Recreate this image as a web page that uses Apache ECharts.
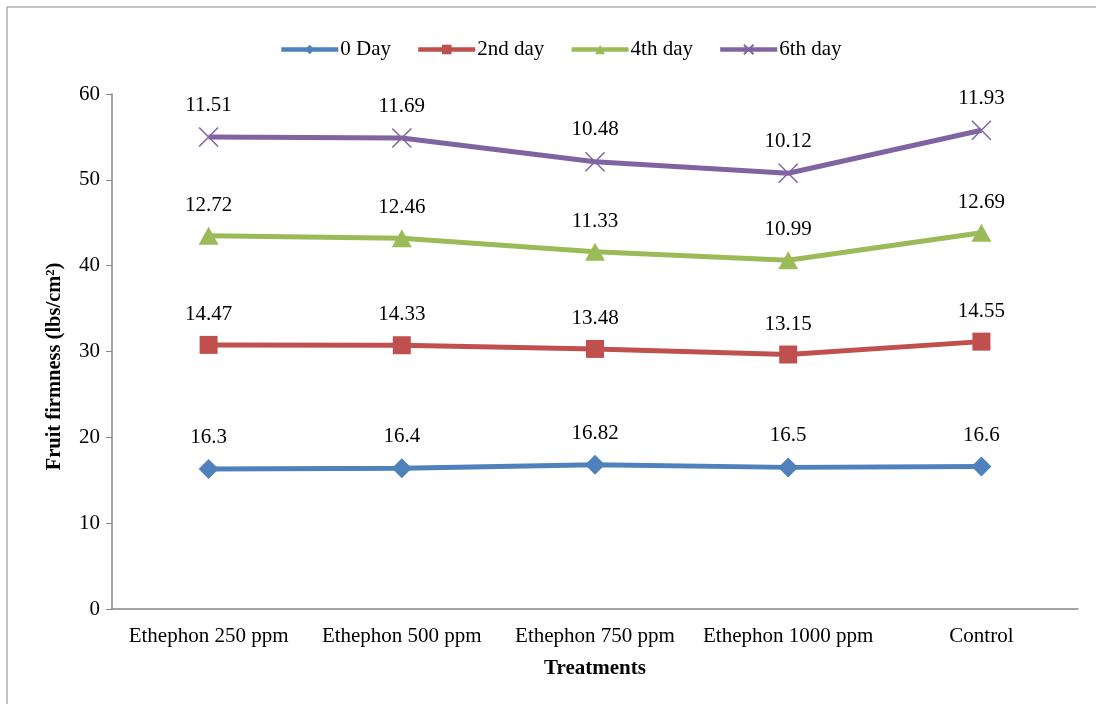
<!DOCTYPE html>
<html><head><meta charset="utf-8">
<script src="https://cdn.jsdelivr.net/npm/echarts@6/dist/echarts.min.js"></script>
<style>html,body{margin:0;padding:0;background:#fff}#c{width:1096px;height:704px}</style>
</head><body><div id="c"></div>
<script>
const categories = ['Ethephon 250 ppm','Ethephon 500 ppm','Ethephon 750 ppm','Ethephon 1000 ppm','Control'];
const day0 = [16.3, 16.4, 16.82, 16.5, 16.6];
const day2 = [14.47, 14.33, 13.48, 13.15, 14.55];
const day4 = [12.72, 12.46, 11.33, 10.99, 12.69];
const day6 = [11.51, 11.69, 10.48, 10.12, 11.93];
const seriesNames = ['0 Day','2nd day','4th day','6th day'];
const colors = ['#4F81BD','#C0504D','#9BBB59','#8064A2'];
const symbols = ['diamond','rect','triangle','path://M0,0 L10,10 M10,0 L0,10'];
const symbolSizes = [[20,20],[18,18],[20,18],[19,19]];
const font = 'Liberation Serif, Times New Roman, serif';
const chart = echarts.init(document.getElementById('c'));
const dataSets = [day0, day2, day4, day6];
chart.setOption({
  animation:false,
  backgroundColor:'#fff',
  graphic:[{type:'rect',shape:{x:7,y:7,width:1200,height:900},style:{fill:'none',stroke:'#898989',lineWidth:1}}],
  legend:{top:34,left:274,itemWidth:57,itemHeight:12,itemGap:25,
    lineStyle:{width:4.5},
    textStyle:{fontFamily:font,fontSize:21,color:'#000',padding:[0,0,0,-3]},
    data:seriesNames},
  grid:{left:112,right:18,top:94,bottom:95},
  xAxis:{type:'category',data:categories,boundaryGap:true,
    name:'Treatments',nameLocation:'middle',nameGap:49,
    nameTextStyle:{fontFamily:font,fontSize:21,fontWeight:'bold',color:'#000'},
    axisLine:{lineStyle:{color:'#868686',width:1.5}},axisTick:{show:false},
    axisLabel:{fontFamily:font,fontSize:21,color:'#000',margin:17,interval:0}},
  yAxis:{type:'value',min:0,max:60,interval:10,
    name:'Fruit firmness (lbs/cm²)',nameLocation:'middle',nameGap:47,
    nameTextStyle:{fontFamily:font,fontSize:20.5,fontWeight:'bold',color:'#000',padding:[0,30,0,0]},
    axisLine:{show:true,lineStyle:{color:'#868686',width:1.5}},
    axisTick:{show:true,length:6,lineStyle:{color:'#868686'}},
    splitLine:{show:false},
    axisLabel:{fontFamily:font,fontSize:21,color:'#000',margin:12}},
  series: dataSets.map((d,i)=>({
    name:seriesNames[i],type:'line',stack:'total',data:d,
    symbol:symbols[i],symbolSize:symbolSizes[i],showAllSymbol:true,
    lineStyle:{color:colors[i],width:5},
    itemStyle:{color:colors[i],borderColor:colors[i],borderWidth:i===3?1.5:0},
    label:{show:true,position:'top',distance:11,fontFamily:font,fontSize:21,color:'#000',
      formatter:p=>String(p.value)}
  }))
});
</script></body></html>
